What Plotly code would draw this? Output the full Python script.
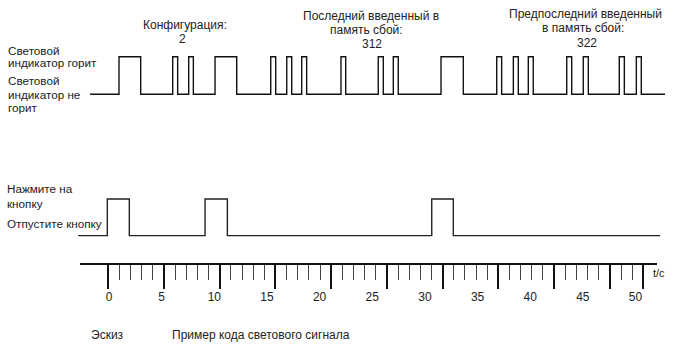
import plotly.graph_objects as go

W, H = 673, 348

# ---- data (time in seconds) ----
led_edges = [0.95, 3.01, 6.05, 6.52, 7.57, 8.01, 10.07, 12.13, 15.36, 15.83,
             16.88, 17.35, 18.30, 18.77, 22.03, 22.48, 25.57, 26.05, 27.00, 27.47,
             31.53, 33.65, 36.82, 37.29, 38.40, 38.87, 39.82, 40.29, 43.47, 43.94,
             45.04, 45.52, 48.46, 48.94, 50.08, 50.55]
led_span = [-1.80, 52.80]
button_edges = [-0.16, 1.93, 9.12, 11.24, 30.65, 32.70]
button_span = [-2.92, 52.33]
time_labels = [0, 5, 10, 15, 20, 25, 30, 35, 40, 45, 50]
scale_major = [0, 5, 10, 15, 20, 25, 30, 35, 40, 45, 48]
scale_minor = [i for i in range(0, 49) if i not in scale_major]


def step_series(edges, span):
    xs = [span[0]] + list(edges) + [span[1]]
    ys = [0] + [1 - (i % 2) for i in range(len(edges))] + [0]
    return xs, ys


def px(x):
    return x / W


def py(y):
    return 1 - y / H


FONT = "Arial, Liberation Sans, sans-serif"
TXT = "#222222"

fig = go.Figure()
lx, ly = step_series(led_edges, led_span)
fig.add_trace(go.Scatter(x=lx, y=ly, mode="lines", line=dict(color="#111", width=1.4, shape="hv"),
                         xaxis="x", yaxis="y", showlegend=False, hoverinfo="skip"))
bx, by = step_series(button_edges, button_span)
fig.add_trace(go.Scatter(x=bx, y=by, mode="lines", line=dict(color="#222", width=1.4, shape="hv"),
                         xaxis="x", yaxis="y2", showlegend=False, hoverinfo="skip"))
fig.add_trace(go.Scatter(x=[], y=[], xaxis="x2", yaxis="y2", showlegend=False))

ann = []


def text(t, x, y, xanchor="center", size=12):
    ann.append(dict(text=t, x=px(x), y=py(y), xref="paper", yref="paper", showarrow=False,
                    xanchor=xanchor, yanchor="middle", font=dict(family=FONT, size=size, color=TXT)))


LS = 11.7
text("Световой", 6, 50, "left", LS)
text("индикатор горит", 6, 63, "left", LS)
text("Световой", 6, 81, "left", LS)
text("индикатор не", 6, 94, "left", LS)
text("горит", 6, 107, "left", LS)
text("Нажмите на", 5, 188, "left", LS)
text("кнопку", 5, 203, "left", LS)
text("Отпустите кнопку", 5, 223, "left", LS)
text("Конфигурация:", 185, 25)
text("2", 183, 39)
text("Последний введенный в", 371, 16)
text("память сбой:", 367, 30)
text("312", 372, 44)
text("Предпоследний введенный", 585, 14)
text("в память сбой:", 583, 28)
text("322", 587, 43)
text("t/c", 659, 273, size=11)
text("Эскиз", 107, 335)
text("Пример кода светового сигнала", 170, 335, "left")

fig.update_layout(
    width=W, height=H, margin=dict(l=0, r=0, t=0, b=0),
    paper_bgcolor="white", plot_bgcolor="rgba(0,0,0,0)",
    annotations=ann,
    xaxis=dict(domain=[0, 1], range=[-109 / 10.53, -109 / 10.53 + W / 10.53],
               anchor="free", position=py(288), showline=False, showgrid=False, zeroline=False,
               ticks="", tickmode="array", tickvals=time_labels, ticktext=[str(v) for v in time_labels],
               tickfont=dict(family=FONT, size=12, color=TXT)),
    xaxis2=dict(domain=[px(80), px(657)], range=[-(108.3 - 80) / 11.146, -(108.3 - 80) / 11.146 + 577 / 11.146],
                anchor="free", position=py(264), showline=True, linecolor="#111", linewidth=2,
                showgrid=False, zeroline=False, showticklabels=False,
                ticks="outside", tickmode="array", tickvals=scale_major, ticklen=24, tickwidth=1.5,
                tickcolor="#111",
                minor=dict(ticks="outside", tickmode="array", tickvals=scale_minor, ticklen=15,
                           tickwidth=1, tickcolor="#444", showgrid=False)),
    yaxis=dict(domain=[py(101.8), py(49.2)], range=[-0.2, 1.2], visible=False, anchor="x"),
    yaxis2=dict(domain=[py(243.0), py(191.7)], range=[-0.2, 1.2], visible=False, anchor="x"),
)

fig.write_html("out.html")
